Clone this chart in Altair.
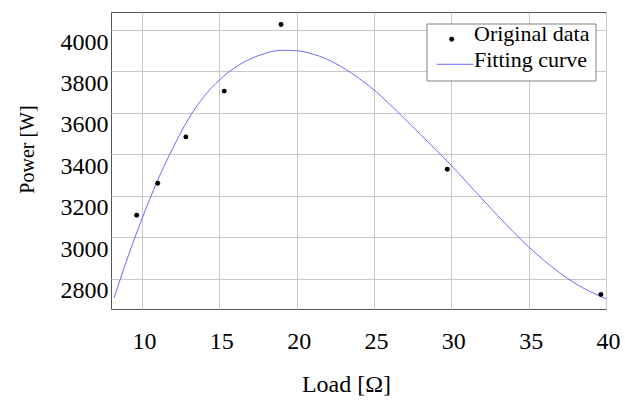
import altair as alt
import pandas as pd

# Measured data points
load_data = [9.66, 11.02, 12.84, 15.32, 18.99, 29.74, 39.67]
power_data = [3106, 3260, 3484, 3705, 4027, 3328, 2723]

# Fitting curve
fit_load = [8.2, 9, 10, 11, 12, 13, 14, 15, 16, 17, 18, 19, 20, 21, 22, 23, 24,
            25, 26, 27, 28, 29, 30, 31, 32, 33, 34, 35, 36, 37, 38, 39, 40]
fit_power = [2706, 2885, 3088, 3272, 3430, 3570, 3678, 3758, 3818, 3860, 3888, 3902,
             3900, 3885, 3858, 3818, 3768, 3711, 3643, 3570, 3496, 3422, 3346, 3265,
             3184, 3104, 3026, 2953, 2887, 2828, 2777, 2736, 2703]

x_ticks = [10, 15, 20, 25, 30, 35, 40]
y_ticks = [2800, 3000, 3200, 3400, 3600, 3800, 4000]
legend_labels = ["Original data", "Fitting curve"]

FONT = "Liberation Serif"
CURVE = "#6b6bff"

pts = pd.DataFrame({"load": load_data, "power": power_data})
fit = pd.DataFrame({"load": fit_load, "power": fit_power})

xs = alt.Scale(domain=[8, 40], nice=False, zero=False)
ys = alt.Scale(domain=[2653, 4087], nice=False, zero=False)

x_axis = alt.Axis(values=x_ticks, title="Load [Ω]", format="d",
                  labelPadding=20, labelOffset=2, labelFlush=False, labelOverlap=False,
                  titleFontSize=24, titleX=235, titleY=82, titleAlign="center",
                  titleBaseline="alphabetic")
y_axis = alt.Axis(values=y_ticks, title="Power [W]", format="d",
                  labelPadding=3, labelBaseline="top", labelAlign="right",
                  labelFlush=False, labelOverlap=False,
                  titleFontSize=20, titleX=-78, titleY=137, titleAngle=270,
                  titleAlign="center", titleBaseline="alphabetic")

line = alt.Chart(fit).mark_line(color=CURVE, strokeWidth=1, interpolate="monotone").encode(
    x=alt.X("load:Q", scale=xs, axis=x_axis),
    y=alt.Y("power:Q", scale=ys, axis=y_axis),
)
points = alt.Chart(pts).mark_circle(color="black", opacity=1, size=24).encode(
    x=alt.X("load:Q", scale=xs, axis=x_axis),
    y=alt.Y("power:Q", scale=ys, axis=y_axis),
)

one = pd.DataFrame({"label": legend_labels})
box = alt.Chart(one.head(1)).mark_rect(fill="white", stroke="#808080", strokeWidth=1).encode(
    x=alt.value(316), x2=alt.value(485), y=alt.value(12), y2=alt.value(69))
leg_dot = alt.Chart(one.head(1)).mark_circle(color="black", opacity=1, size=24).encode(
    x=alt.value(340.7), y=alt.value(27.3))
leg_line = alt.Chart(one.head(1)).mark_rule(color=CURVE, strokeWidth=1).encode(
    x=alt.value(325.7), x2=alt.value(362.3), y=alt.value(52.3))
t1 = alt.Chart(pd.DataFrame({"label": [legend_labels[0]]})).mark_text(
    font=FONT, fontSize=22, align="left", baseline="alphabetic", color="black").encode(
    x=alt.value(363), y=alt.value(28.7), text="label:N")
t2 = alt.Chart(pd.DataFrame({"label": [legend_labels[1]]})).mark_text(
    font=FONT, fontSize=22, align="left", baseline="alphabetic", color="black").encode(
    x=alt.value(363), y=alt.value(54.7), text="label:N")

chart = alt.layer(line, points, box, leg_dot, leg_line, t1, t2).properties(
    width=495, height=297,
    autosize=alt.AutoSizeParams(type="none"),
    padding={"left": 111, "top": 12, "right": 19, "bottom": 92},
    background="white",
).configure_view(
    stroke="#555555", strokeWidth=1
).configure_axis(
    grid=True, gridColor="#c8c8c8", gridWidth=1, tickSize=0, domain=False,
    labelFont=FONT, labelFontSize=24, labelColor="black",
    titleFont=FONT, titleFontWeight="normal", titleColor="black",
)

chart.save("out.html", embed_options={"renderer": "svg", "actions": False})
